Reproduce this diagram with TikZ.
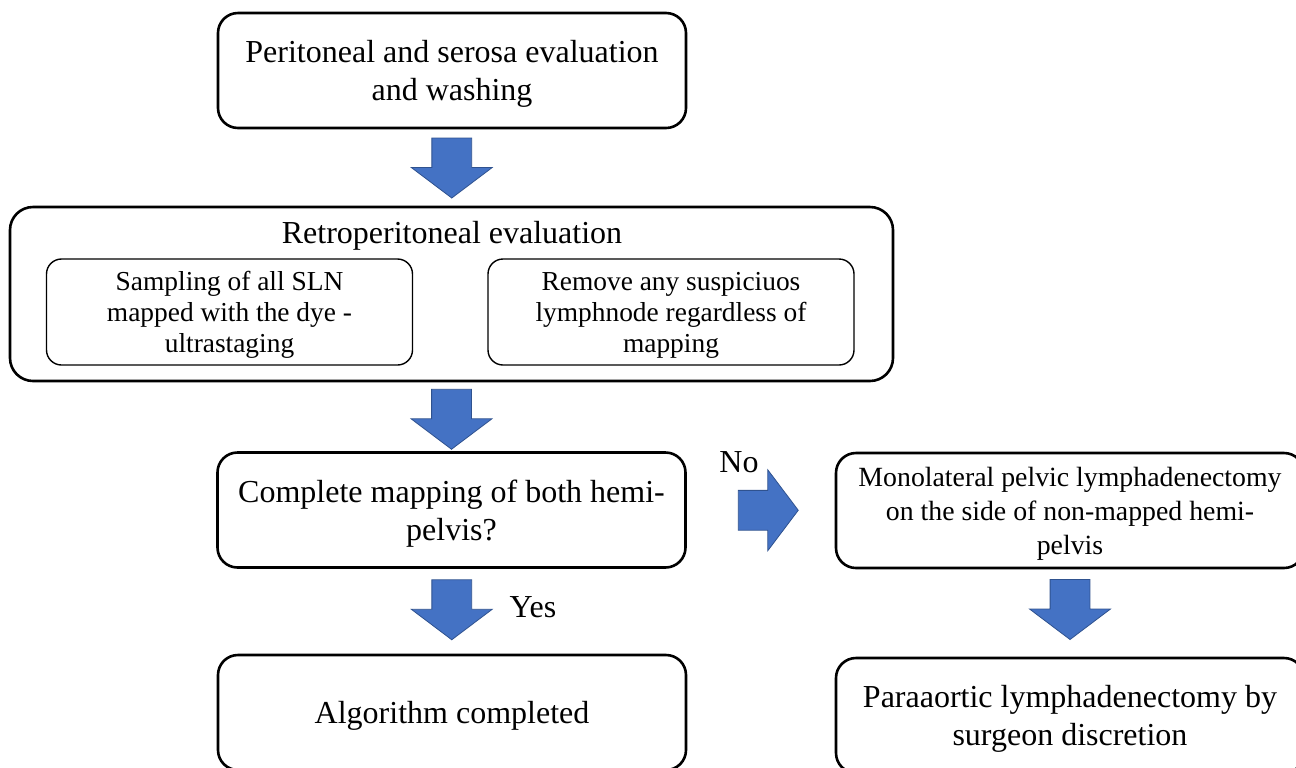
\documentclass[tikz,border=0pt]{standalone}
\usepackage{fontspec}
\setmainfont{Liberation Serif}
\usetikzlibrary{positioning,shapes.arrows,calc}
\definecolor{arrowblue}{HTML}{4472C4}
\definecolor{arrowedge}{HTML}{2F528F}

\begin{document}
\begin{tikzpicture}[x=0.5pt, y=-0.5pt,
    box/.style={draw, line width=1.3pt, rounded corners=10pt, align=center, text depth=0pt, minimum width=234pt, minimum height=57.5pt, font={\fontsize{16pt}{19pt}\selectfont}},
    subbox/.style={draw, line width=0.7pt, rounded corners=7.5pt, align=center, text depth=0pt, minimum width=183pt, minimum height=53pt, font={\fontsize{13.7pt}{15.5pt}\selectfont}},
    lbl/.style={font={\fontsize{16pt}{19pt}\selectfont}},
    bigarrow/.style={single arrow, fill=arrowblue, draw=arrowedge, line width=0.4pt, inner xsep=0pt, inner ysep=9.75pt, single arrow head extend=10.25pt, single arrow tip angle=106, minimum height=30pt},
]
    \useasboundingbox (0,0) rectangle (1296,767);
    \clip (0,0) rectangle (1296,767);

    \node[box] (peri) at (452,70.5) {Peritoneal and serosa evaluation\\and washing};
    \node[box, minimum width=441.5pt, minimum height=87pt, rounded corners=11.5pt] (retro) at (451.5,294) {};
    \node[lbl] (retrotitle) at (452,236) {Retroperitoneal evaluation};
    \node[subbox] (sampling) at (229.5,312) {Sampling of all SLN\\mapped with the dye -\\ultrastaging};
    \node[subbox] (remove) at (671,312) {Remove any suspiciuos\\lymphnode regardless of\\mapping};
    \node[box] (complete) at (451.5,510) {Complete mapping of both hemi-\\pelvis?};
    \node[box, font={\fontsize{13.9pt}{17pt}\selectfont}] (mono) at (1070,510.5) {Monolateral pelvic lymphadenectomy\\on the side of non-mapped hemi-\\pelvis};
    \node[box] (done) at (452,712.5) {Algorithm completed};
    \node[box] (paraaortic) at (1070,715.5) {Paraaortic lymphadenectomy by\\surgeon discretion};

    \node[bigarrow, rotate=-90] (a1) at ($(peri.south)!0.5!(retro.north)+(0,-7)$) {};
    \node[bigarrow, rotate=-90] (a2) at ($(retro.south)!0.5!(complete.north)+(0,-5)$) {};
    \node[bigarrow, rotate=-90] (ayes) at ($(complete.south)!0.5!(done.north)+(0,-9)$) {};
    \node[bigarrow] (ano) at ($(complete.east)!0.5!(mono.west)$) {};
    \node[bigarrow, rotate=-90] (a3) at ($(mono.south)!0.5!(paraaortic.north)+(0,-11)$) {};

    \node[lbl] (no) at (739,462) {No};
    \node[lbl] (yes) at (533,607) {Yes};
\end{tikzpicture}
\end{document}
